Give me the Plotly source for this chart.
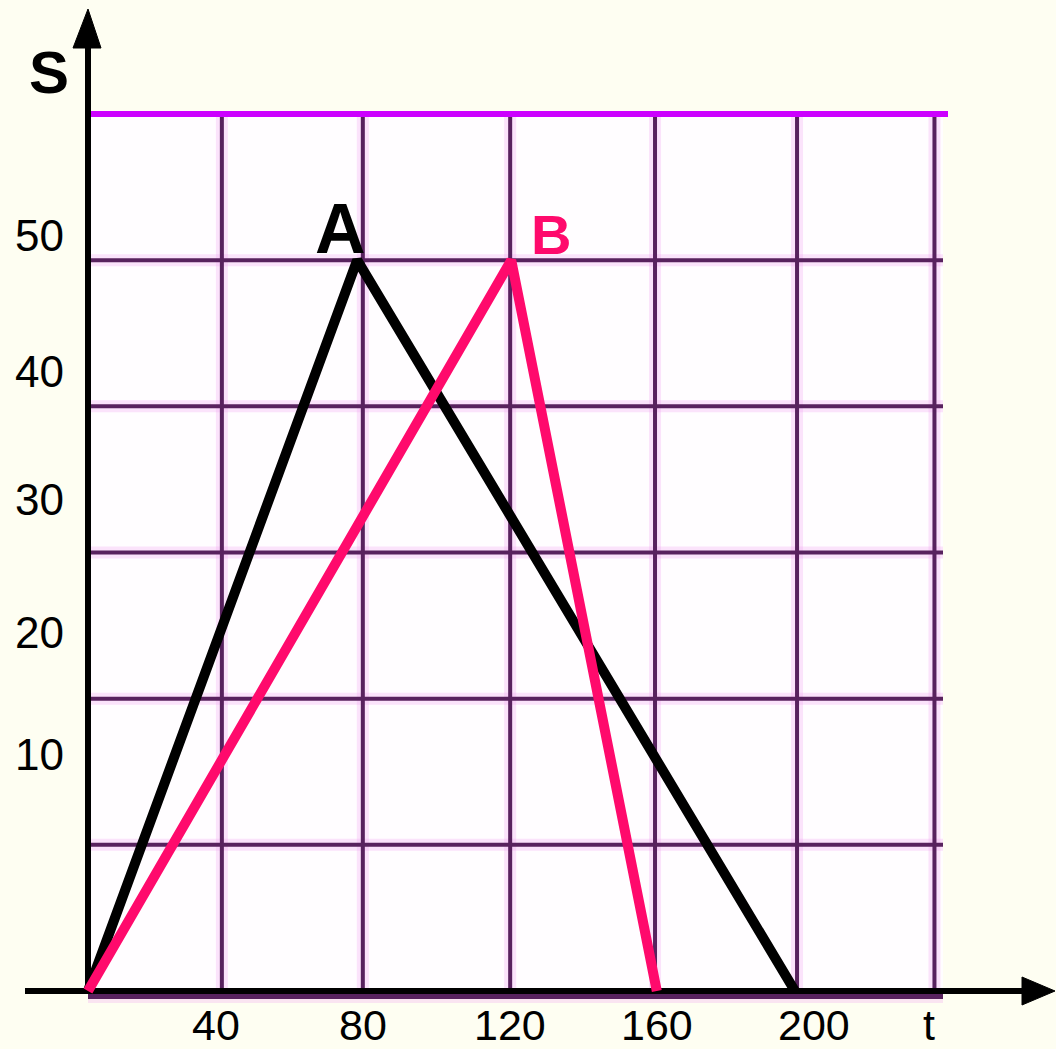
import plotly.graph_objects as go

# ---- data ----
t_A = [0, 76, 199.6]
s_A = [0, 50, 0]
t_B = [0, 119.5, 160.6]
s_B = [0, 50, 0]

grid_t = [37.8, 77.6, 119.2, 160.1, 200.2, 239.0]
grid_s = [10, 20, 30, 40, 50]
top_s = 60

x_tick_text = ["40", "80", "120", "160", "200", "t"]
x_tick_pos = [36.1, 77.6, 119.2, 160.6, 205.0, 237.5]
y_tick_text = ["50", "40", "30", "20", "10"]
y_tick_pos = [51.7, 42.4, 33.6, 24.5, 16.2]

# ---- layout constants ----
W, H = 1056, 1049
X0PX, KX = 88, 850 / 240
Y0PX, KY = 991, 877 / 60
xr = [-X0PX / KX, (W - X0PX) / KX]
yr = [-(H - Y0PX) / KY, Y0PX / KY]


def dx(px):
    return (px - X0PX) / KX


def dy(py):
    return (Y0PX - py) / KY


BG = "#FEFEF2"
PANEL = "#FFFDFF"
GRID = "#58225E"
HALO = "rgba(240,150,240,0.25)"
PURPLE = "#CC00FF"
PINK = "#FF0A6C"

fig = go.Figure()

# panel background
gx_end = dx(943)
fig.add_trace(go.Scatter(x=[0, gx_end, gx_end, 0, 0], y=[dy(998), dy(998), top_s, top_s, dy(998)],
                         mode="lines", fill="toself", fillcolor=PANEL, line=dict(width=0),
                         hoverinfo="skip", showlegend=False))

# grid halos then grid lines
for w, c in [(12, HALO), (4, GRID)]:
    for g in grid_t:
        fig.add_trace(go.Scatter(x=[g, g], y=[dy(996), top_s], mode="lines",
                                 line=dict(color=c, width=w), hoverinfo="skip", showlegend=False))
    for g in grid_s:
        fig.add_trace(go.Scatter(x=[0, gx_end], y=[g, g], mode="lines",
                                 line=dict(color=c, width=w), hoverinfo="skip", showlegend=False))
    fig.add_trace(go.Scatter(x=[0, gx_end], y=[dy(996.5), dy(996.5)], mode="lines",
                             line=dict(color=c, width=w + 1), hoverinfo="skip", showlegend=False))

# top purple line
fig.add_trace(go.Scatter(x=[dx(86), dx(948)], y=[top_s, top_s], mode="lines",
                         line=dict(color=PURPLE, width=6), hoverinfo="skip", showlegend=False))

# axes
fig.add_trace(go.Scatter(x=[dx(25), dx(1025)], y=[0, 0], mode="lines",
                         line=dict(color="black", width=6), hoverinfo="skip", showlegend=False))
fig.add_trace(go.Scatter(x=[0, 0], y=[dy(994), dy(40)], mode="lines",
                         line=dict(color="black", width=6), hoverinfo="skip", showlegend=False))
# arrowheads
fig.add_trace(go.Scatter(x=[dx(1022), dx(1055), dx(1022), dx(1022)],
                         y=[dy(977), 0, dy(1005), dy(977)], mode="lines", fill="toself",
                         fillcolor="black", line=dict(color="black", width=1),
                         hoverinfo="skip", showlegend=False))
fig.add_trace(go.Scatter(x=[dx(73), 0, dx(101), dx(73)],
                         y=[dy(48), dy(9), dy(48), dy(48)], mode="lines", fill="toself",
                         fillcolor="black", line=dict(color="black", width=1),
                         hoverinfo="skip", showlegend=False))

# series
fig.add_trace(go.Scatter(x=t_A, y=s_A, mode="lines", line=dict(color="black", width=10),
                         name="A", showlegend=False))
fig.add_trace(go.Scatter(x=t_B, y=s_B, mode="lines", line=dict(color=PINK, width=10),
                         name="B", showlegend=False))

FONT = "Liberation Sans, Arial, sans-serif"
ann = []
for txt, p in zip(x_tick_text, x_tick_pos):
    ann.append(dict(x=p, y=dy(1025), text=txt, showarrow=False, xref="x", yref="y",
                    borderpad=0, font=dict(family=FONT, size=43, color="black")))
for txt, p in zip(y_tick_text, y_tick_pos):
    ann.append(dict(x=dx(39), y=p, text=txt, showarrow=False, xref="x", yref="y",
                    font=dict(family=FONT, size=44, color="black")))
ann.append(dict(x=dx(49), y=dy(72), text="<b>S</b>", showarrow=False,
                font=dict(family=FONT, size=60, color="black")))
ann.append(dict(x=dx(340), y=dy(229), text="<b>A</b>", showarrow=False,
                font=dict(family=FONT, size=70, color="black")))
ann.append(dict(x=dx(551), y=dy(234), text="<b>B</b>", showarrow=False,
                font=dict(family=FONT, size=56, color=PINK)))

fig.update_layout(
    width=W, height=H, margin=dict(l=0, r=0, t=0, b=0),
    paper_bgcolor=BG, plot_bgcolor=BG,
    xaxis=dict(range=xr, visible=False, fixedrange=True),
    yaxis=dict(range=yr, visible=False, fixedrange=True),
    annotations=ann, showlegend=False,
)

fig.write_html("out.html", config={"displayModeBar": False},
               post_script="document.body.style.margin='0';document.body.style.overflow='hidden';"
                           "document.body.style.background='" + BG + "';")
